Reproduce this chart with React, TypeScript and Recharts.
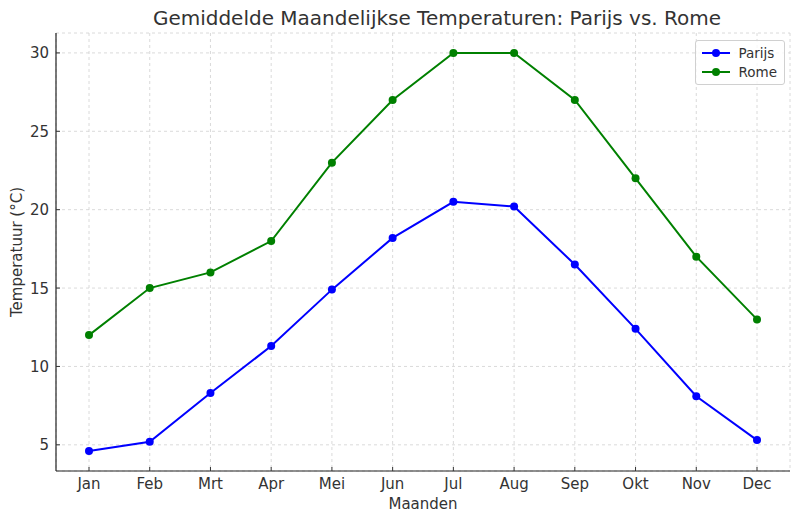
import React from 'react'
import { LineChart, Line, XAxis, YAxis, CartesianGrid } from 'recharts'

const months = ['Jan', 'Feb', 'Mrt', 'Apr', 'Mei', 'Jun', 'Jul', 'Aug', 'Sep', 'Okt', 'Nov', 'Dec']
const parijs = [4.6, 5.2, 8.3, 11.3, 14.9, 18.2, 20.5, 20.2, 16.5, 12.4, 8.1, 5.3]
const rome = [12, 15, 16, 18, 23, 27, 30, 30, 27, 22, 17, 13]
const yTicks = [5, 10, 15, 20, 25, 30]

const series = [
    { key: 'parijs', name: 'Parijs', color: '#0000ff' },
    { key: 'rome', name: 'Rome', color: '#008000' },
]

const data = months.map((m, i) => ({ month: m, parijs: parijs[i], rome: rome[i] }))

const FONT = '"DejaVu Sans", sans-serif'
const TEXT = '#333333'

// matplotlib style: ticks point into the plot
const XTick = (props: any) => {
    const { x, y, payload } = props
    return (
        <g>
            <line x1={x} x2={x} y1={y - 4} y2={y} stroke="#333" strokeWidth={1} />
            <text x={x} y={y + 18} textAnchor="middle" fill={TEXT} fontSize={15} fontFamily={FONT}>
                {payload.value}
            </text>
        </g>
    )
}

const YTick = (props: any) => {
    const { x, y, payload } = props
    return (
        <g>
            <line x1={x} x2={x + 4} y1={y} y2={y} stroke="#333" strokeWidth={1} />
            <text x={x - 7} y={y + 5.5} textAnchor="end" fill={TEXT} fontSize={15} fontFamily={FONT}>
                {payload.value}
            </text>
        </g>
    )
}

const LegendBox = () => (
    <div style={{
        position: 'absolute', right: 15, top: 40,
        background: 'rgba(255,255,255,0.8)', border: '1px solid #d0d0d0', borderRadius: 3,
        padding: '2px 7px 3px 5px', fontFamily: FONT, fontSize: 13.5, color: TEXT,
    }}>
        {series.map((s) => (
            <div key={s.key} style={{ display: 'flex', alignItems: 'center', height: 19 }}>
                <svg width={30} height={12} style={{ marginRight: 8 }}>
                    <line x1={1} x2={29} y1={6} y2={6} stroke={s.color} strokeWidth={2} />
                    <circle cx={15} cy={6} r={4} fill={s.color} />
                </svg>
                <span>{s.name}</span>
            </div>
        ))}
    </div>
)

export default function App() {
    return (
        <div style={{ position: 'absolute', left: 0, top: 0, width: 800, height: 522, background: '#fff' }}>
            <LineChart width={800} height={522} data={data}
                margin={{ top: 33, right: 10, bottom: 0, left: 0 }}>
                <CartesianGrid stroke="#d0d0d0" strokeDasharray="3 3" strokeWidth={0.8} />
                <XAxis dataKey="month" height={51} padding={{ left: 33, right: 33 }}
                    stroke="#222" strokeWidth={1.2} tickLine={false} tickSize={0} tickMargin={0}
                    tick={<XTick />} interval={0} />
                <YAxis width={56} type="number" domain={[3.33, 31.27]} ticks={yTicks}
                    allowDataOverflow stroke="#222" strokeWidth={1.2} tickLine={false}
                    tickSize={0} tickMargin={0} tick={<YTick />} />
                {series.map((s) => (
                    <Line key={s.key} dataKey={s.key} name={s.name} stroke={s.color} strokeWidth={2}
                        dot={{ r: 4, fill: s.color, stroke: s.color, strokeWidth: 0 }}
                        activeDot={false} isAnimationActive={false} />
                ))}
            </LineChart>
            <div style={{
                position: 'absolute', left: 0, width: 874, top: 6, textAlign: 'center',
                fontFamily: FONT, fontSize: 20, color: TEXT, whiteSpace: 'nowrap',
            }}>
                Gemiddelde Maandelijkse Temperaturen: Parijs vs. Rome
            </div>
            <div style={{
                position: 'absolute', left: 323, width: 200, top: 495, textAlign: 'center',
                fontFamily: FONT, fontSize: 15, color: TEXT,
            }}>
                Maanden
            </div>
            <div style={{
                position: 'absolute', left: 17, top: 252, width: 200, height: 20, marginLeft: -100,
                marginTop: -10, textAlign: 'center', lineHeight: '20px', transform: 'rotate(-90deg)',
                fontFamily: FONT, fontSize: 15, color: TEXT, whiteSpace: 'nowrap',
            }}>
                Temperatuur (°C)
            </div>
            <LegendBox />
        </div>
    )
}
